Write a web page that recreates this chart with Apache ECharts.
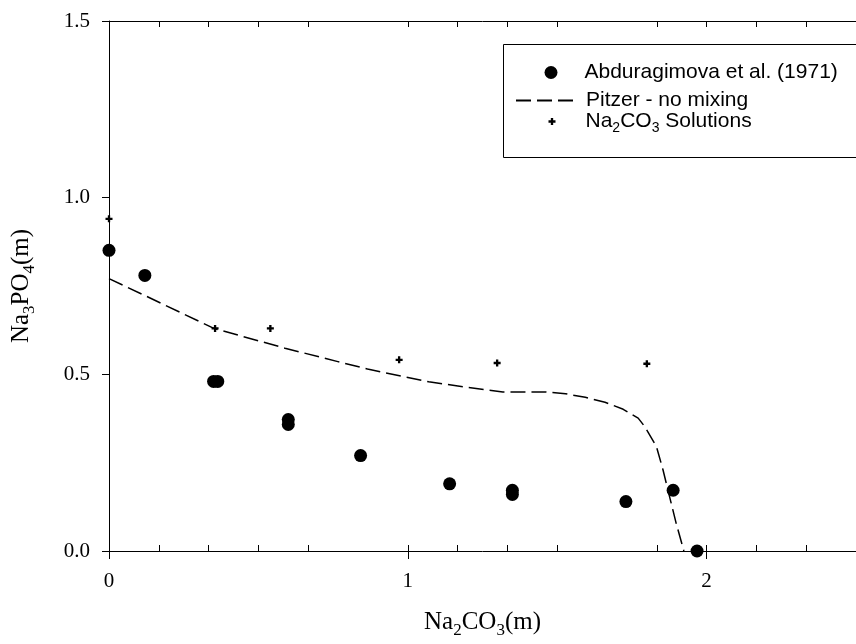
<!DOCTYPE html>
<html>
<head>
<meta charset="utf-8">
<script src="https://cdn.jsdelivr.net/npm/echarts@6.0.0/dist/echarts.min.js"></script>
<style>
  html, body { margin: 0; padding: 0; background: #fff; }
  #chart { width: 856px; height: 644px; }
</style>
</head>
<body>
<div id="chart"></div>
<script>
// Measured Na3PO4 solubility, Abduragimova et al. (1971)
const abduX = [0, 0.12, 0.35, 0.364, 0.6, 0.6, 0.842, 1.14, 1.35, 1.35, 1.73, 1.888, 1.968];
const abduY = [0.851, 0.78, 0.48, 0.48, 0.372, 0.358, 0.27, 0.19, 0.172, 0.16, 0.14, 0.172, 0];

// Pitzer model prediction, no mixing parameters
const pitzerX = [0, 0.12, 0.351, 0.589, 0.766, 0.865, 1.07, 1.2, 1.318, 1.462, 1.528, 1.594, 1.66, 1.721, 1.771, 1.793, 1.832, 1.854, 1.876, 1.898, 1.924];
const pitzerY = [0.771, 0.723, 0.63, 0.574, 0.536, 0.515, 0.479, 0.463, 0.45, 0.45, 0.445, 0.435, 0.421, 0.401, 0.376, 0.352, 0.296, 0.23, 0.154, 0.079, 0];

// Na2CO3 solution points
const naX = [0, 0.355, 0.54, 0.971, 1.299, 1.8];
const naY = [0.94, 0.63, 0.63, 0.541, 0.532, 0.53];

// Axis tick labels
const xTickLabels = { 0: '0', 1: '1', 2: '2' };
const yTickLabels = { 0: '0.0', 0.5: '0.5', 1: '1.0', 1.5: '1.5' };

const seriesNames = ['Abduragimova et al. (1971)', 'Pitzer - no mixing', 'Na2CO3 Solutions'];

const pair = (xs, ys) => xs.map((x, i) => [x, ys[i]]);

const serif = 'Liberation Serif';
const sans = 'Liberation Sans';
const plusPath = 'path://M2,0H4V2H6V4H4V6H2V4H0V2H2Z';

const chart = echarts.init(document.getElementById('chart'), null, { renderer: 'canvas' });

// Axis carrying only the small inward ticks every 0.2
const minorAxis = (position, showLine) => ({
  gridIndex: 1,
  type: 'value',
  position: position,
  min: 0,
  max: 3,
  interval: 1,
  axisLine: { show: showLine, onZero: false, lineStyle: { color: '#000', width: 1 } },
  axisTick: { show: false, inside: true },
  minorTick: { show: true, splitNumber: 5, length: 6, lineStyle: { color: '#000', width: 1 } },
  axisLabel: { show: false },
  splitLine: { show: false },
  minorSplitLine: { show: false }
});

const subRich = (family, size, pad) => ({
  s: { fontFamily: family, fontSize: size, color: '#000', padding: [pad, 0, 0, 0] }
});

const option = {
  animation: false,
  backgroundColor: '#fff',
  grid: [
    { left: 109, top: 21, width: 755, height: 530 },
    { left: 109, top: 21, width: 906, height: 530 }
  ],
  xAxis: [
    {
      gridIndex: 0,
      type: 'value',
      position: 'bottom',
      min: 0,
      max: 2.5,
      interval: 1,
      axisLine: { show: true, onZero: false, lineStyle: { color: '#000', width: 1 } },
      axisTick: { show: true, inside: false, length: 8, lineStyle: { color: '#000', width: 1 } },
      axisLabel: {
        margin: 20, color: '#000', fontFamily: serif, fontSize: 21,
        showMaxLabel: false,
        formatter: v => (xTickLabels[v] !== undefined ? xTickLabels[v] : '')
      },
      splitLine: { show: false },
      name: 'Na{s|2}CO{s|3}(m)',
      nameLocation: 'middle',
      nameGap: 55,
      nameTextStyle: {
        color: '#000', fontFamily: serif, fontSize: 25,
        rich: subRich(serif, 17, 16)
      }
    },
    minorAxis('bottom', false),
    minorAxis('top', true)
  ],
  yAxis: [
    {
      gridIndex: 0,
      type: 'value',
      min: 0,
      max: 1.5,
      interval: 0.5,
      axisLine: { show: true, onZero: false, lineStyle: { color: '#000', width: 1 } },
      axisTick: { show: true, inside: false, length: 7, lineStyle: { color: '#000', width: 1 } },
      axisLabel: {
        margin: 19, color: '#000', fontFamily: serif, fontSize: 21,
        formatter: v => (yTickLabels[v] !== undefined ? yTickLabels[v] : '')
      },
      splitLine: { show: false },
      name: 'Na{s|3}PO{s|4}(m)',
      nameLocation: 'middle',
      nameGap: 71,
      nameTextStyle: {
        color: '#000', fontFamily: serif, fontSize: 25,
        rich: subRich(serif, 17, 16)
      }
    },
    { gridIndex: 1, type: 'value', min: 0, max: 1.5, show: false }
  ],
  legend: [
    {
      data: [seriesNames[0]], left: 544.5, top: 62, padding: 0,
      itemWidth: 57, itemHeight: 13, selectedMode: false,
      itemStyle: { opacity: 1 },
      textStyle: { color: '#000', fontFamily: sans, fontSize: 21 }
    },
    {
      data: [seriesNames[1]], left: 515, top: 90, padding: 0,
      itemWidth: 57, itemHeight: 14, selectedMode: false,
      itemStyle: { color: 'rgba(0,0,0,0)', borderWidth: 0, opacity: 0 },
      textStyle: { color: '#000', fontFamily: sans, fontSize: 21, padding: [0, 0, 0, 8] }
    },
    {
      data: [seriesNames[2]], left: 548.5, top: 111, padding: 0,
      itemWidth: 57, itemHeight: 7, selectedMode: false,
      itemStyle: { opacity: 1 },
      formatter: () => 'Na{s|2}CO{s|3} Solutions',
      textStyle: {
        color: '#000', fontFamily: sans, fontSize: 21,
        rich: subRich(sans, 14, 14)
      }
    }
  ],
  graphic: [
    {
      type: 'rect',
      shape: { x: 503.5, y: 44.5, width: 400, height: 113 },
      style: { fill: 'none', stroke: '#000', lineWidth: 1 },
      z: 5
    }
  ],
  series: [
    {
      name: seriesNames[0],
      type: 'scatter',
      xAxisIndex: 0, yAxisIndex: 0,
      data: pair(abduX, abduY),
      symbol: 'circle',
      symbolSize: 13,
      itemStyle: { color: '#000', opacity: 1 },
      z: 3
    },
    {
      name: seriesNames[1],
      type: 'line',
      xAxisIndex: 0, yAxisIndex: 0,
      data: pair(pitzerX, pitzerY),
      symbol: 'none',
      showSymbol: false,
      lineStyle: { color: '#000', width: 1.5, type: [15, 6] },
      itemStyle: { color: '#000' },
      z: 2
    },
    {
      name: seriesNames[2],
      type: 'scatter',
      xAxisIndex: 0, yAxisIndex: 0,
      data: pair(naX, naY),
      symbol: plusPath,
      symbolKeepAspect: true,
      symbolSize: 7,
      itemStyle: { color: '#000', opacity: 1 },
      z: 4
    }
  ]
};

chart.setOption(option);
</script>
</body>
</html>
